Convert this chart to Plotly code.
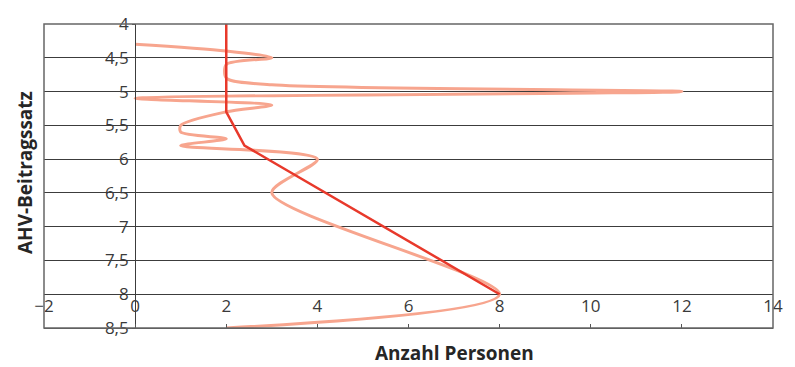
import plotly.graph_objects as go

# Data
trend_x = [2, 2, 2.4, 8]
trend_y = [4.0, 5.3, 5.8, 8.0]

dist_x = [0, 2, 3, 2, 2, 3, 12, 0, 3, 2, 1, 1, 2, 1, 4, 3, 8, 2]
dist_y = [4.3, 4.4, 4.5, 4.6, 4.8, 4.9, 5.0, 5.1, 5.2, 5.3, 5.5, 5.6, 5.7, 5.8, 6.0, 6.5, 8.0, 8.5]

x_ticks = [-2, 0, 2, 4, 6, 8, 10, 12, 14]
y_ticks = [4, 4.5, 5, 5.5, 6, 6.5, 7, 7.5, 8, 8.5]

FONT = "Open Sans"
TXT = "#3a3a3a"

fig = go.Figure()
fig.add_trace(go.Scatter(x=dist_x, y=dist_y, mode="lines",
                         line=dict(color="#F7A58E", width=3, shape="spline", smoothing=0.8),
                         showlegend=False, hoverinfo="skip"))
fig.add_trace(go.Scatter(x=trend_x, y=trend_y, mode="lines",
                         line=dict(color="#E8392B", width=2.5),
                         showlegend=False, hoverinfo="skip"))
# invisible trace on the second x axis so it gets drawn
fig.add_trace(go.Scatter(x=[x_ticks[0], x_ticks[-1]], y=[y_ticks[0], y_ticks[0]], mode="lines",
                         xaxis="x2", line=dict(width=0), opacity=0,
                         showlegend=False, hoverinfo="skip"))

fig.update_layout(
    width=795, height=367,
    margin=dict(l=44, r=21, t=22, b=39),
    paper_bgcolor="white", plot_bgcolor="white",
    separators=",.",
    font=dict(family=FONT, size=17, color=TXT),
    xaxis=dict(range=[-2, 14], tickvals=x_ticks, showgrid=False, zeroline=False,
               anchor="free", position=(8.5 - 8) / 4.5, showline=False, ticks="",
               ticklabelstandoff=0,
               tickfont=dict(size=17, color=TXT)),
    xaxis2=dict(range=[-2, 14], tickvals=x_ticks, overlaying="x", anchor="y", side="bottom",
                showgrid=False, zeroline=False, showticklabels=False,
                showline=True, linecolor="#555555", linewidth=1,
                ticks="inside", ticklen=4, tickcolor="#555555"),
    yaxis=dict(range=[8.5, 4], tickvals=y_ticks, showgrid=True, gridcolor="#3c3c3c",
               gridwidth=1, zeroline=False, anchor="free", position=0.125,
               showline=True, linecolor="#3c3c3c", linewidth=1,
               ticks="outside", ticklen=3, tickcolor="#3c3c3c",
               tickfont=dict(size=17, color=TXT)),
    shapes=[dict(type="rect", xref="paper", yref="paper", x0=0, x1=1, y0=0, y1=1,
                 line=dict(color="#666666", width=1.5), layer="above")],
    annotations=[
        dict(text="<b>AHV-Beitragssatz</b>", xref="paper", yref="paper",
             x=-0.026, y=0.51, textangle=-90, showarrow=False,
             xanchor="center", yanchor="middle",
             font=dict(family=FONT, size=19, color="#262626")),
        dict(text="<b>Anzahl Personen</b>", xref="x", yref="paper",
             x=7, y=-0.083, showarrow=False, xanchor="center", yanchor="middle",
             borderpad=0,
             font=dict(family=FONT, size=19, color="#262626")),
    ],
)

fig.write_html("out.html", config={"displayModeBar": False},
               post_script="document.body.style.margin='0';document.body.style.padding='0';")
